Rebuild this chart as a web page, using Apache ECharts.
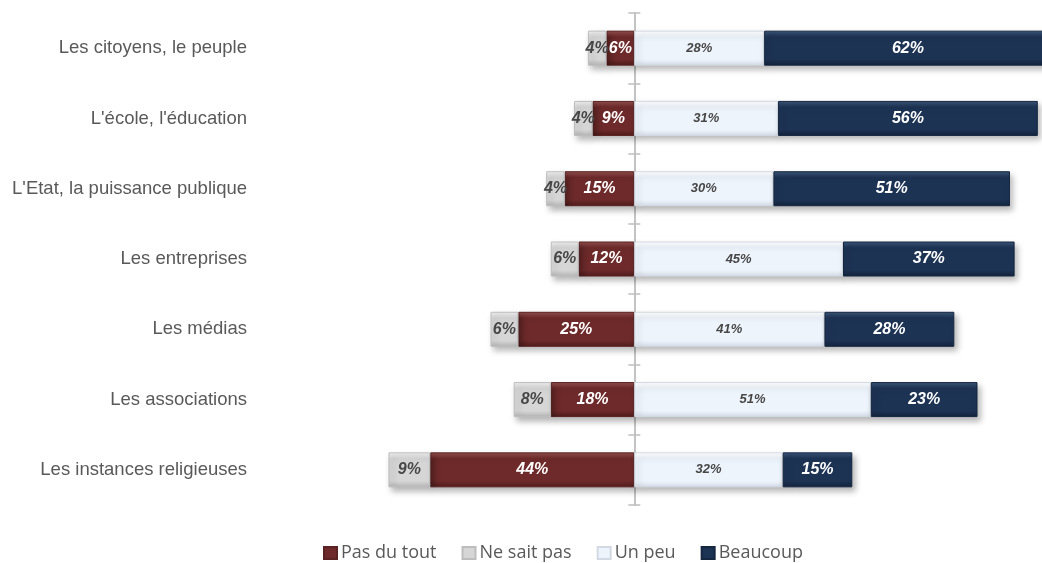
<!DOCTYPE html>
<html>
<head>
<meta charset="utf-8">
<script src="https://cdn.jsdelivr.net/npm/echarts@6/dist/echarts.min.js"></script>
<style>
  html, body { margin: 0; padding: 0; background: #ffffff; }
  #chart { width: 1042px; height: 563px; }
</style>
</head>
<body>
<div id="chart"></div>
<script>
// Survey items, top to bottom
const categories = [
  "Les citoyens, le peuple",
  "L'école, l'éducation",
  "L'Etat, la puissance publique",
  "Les entreprises",
  "Les médias",
  "Les associations",
  "Les instances religieuses"
];
// Answer shares in percent
const pasDuTout = [6, 9, 15, 12, 25, 18, 44];
const neSaitPas = [4, 4, 4, 6, 6, 8, 9];
const unPeu = [28, 31, 30, 45, 41, 51, 32];
const beaucoup = [62, 56, 51, 37, 28, 23, 15];

const chart = echarts.init(document.getElementById('chart'));

function bevel(top, mid, bottom) {
  return new echarts.graphic.LinearGradient(0, 0, 0, 1, [
    { offset: 0, color: top },
    { offset: 0.18, color: mid },
    { offset: 0.82, color: mid },
    { offset: 1, color: bottom }
  ]);
}

const shadow = {
  shadowBlur: 6,
  shadowOffsetX: 3,
  shadowOffsetY: 4,
  shadowColor: 'rgba(0,0,0,0.28)'
};

function labelCfg(color, size) {
  return {
    show: true,
    position: 'inside',
    color: color,
    fontFamily: 'Liberation Sans, Arial, sans-serif',
    fontStyle: 'italic',
    fontWeight: 'bold',
    fontSize: size,
    formatter: p => Math.abs(p.value) + '%'
  };
}

const series = [
  {
    name: 'Pas du tout',
    type: 'bar',
    stack: 'total',
    barWidth: 35,
    data: pasDuTout.map(v => -v),
    itemStyle: Object.assign({
      color: bevel('#93504f', '#6e2a2a', '#4f1c1c'),
      borderColor: '#5a2222', borderWidth: 1
    }, shadow),
    label: labelCfg('#ffffff', 16)
  },
  {
    name: 'Ne sait pas',
    type: 'bar',
    stack: 'total',
    data: neSaitPas.map(v => -v),
    itemStyle: Object.assign({
      color: bevel('#f0f0f0', '#d6d6d6', '#b5b5b5'),
      borderColor: '#bdbdbd', borderWidth: 1
    }, shadow),
    label: labelCfg('#474747', 16)
  },
  {
    name: 'Un peu',
    type: 'bar',
    stack: 'total',
    data: unPeu,
    itemStyle: Object.assign({
      color: bevel('#ffffff', '#eef4fc', '#d5dce6'),
      borderColor: '#d3d9e2', borderWidth: 1
    }, shadow),
    label: labelCfg('#474747', 13)
  },
  {
    name: 'Beaucoup',
    type: 'bar',
    stack: 'total',
    data: beaucoup,
    itemStyle: Object.assign({
      color: bevel('#3c5679', '#1d3354', '#13233b'),
      borderColor: '#152640', borderWidth: 1
    }, shadow),
    label: labelCfg('#ffffff', 16)
  }
];

const axisGrey = { color: '#bfbfbf', width: 1.5 };

chart.setOption({
  animation: false,
  backgroundColor: '#ffffff',
  grid: {
    left: 356, right: -19, top: 13, bottom: 58,
    containLabel: false,
    outerBoundsMode: 'none'
  },
  xAxis: [
    { type: 'value', min: -60, max: 92, show: false },
    // twin scale used only to anchor the right-hand tick marks at zero
    { type: 'value', min: -60, max: 92, show: false }
  ],
  yAxis: [
    {
      type: 'category',
      inverse: true,
      data: categories,
      axisLine: { show: true, onZero: true, onZeroAxisIndex: 0, lineStyle: axisGrey },
      axisTick: { show: true, length: 6, lineStyle: axisGrey },
      axisLabel: {
        margin: 109,
        color: '#595959',
        fontFamily: 'Liberation Sans, Arial, sans-serif',
        fontSize: 18.5
      },
      splitLine: { show: false }
    },
    {
      type: 'category',
      inverse: true,
      position: 'right',
      data: categories,
      axisLine: { show: true, onZero: true, onZeroAxisIndex: 1, lineStyle: axisGrey },
      axisTick: { show: true, length: 6, lineStyle: axisGrey },
      axisLabel: { show: false },
      splitLine: { show: false }
    }
  ],
  legend: {
    data: ['Pas du tout', 'Ne sait pas', 'Un peu', 'Beaucoup'],
    left: 318,
    top: 539,
    icon: 'rect',
    itemWidth: 13,
    itemHeight: 12,
    itemGap: 25,
    textStyle: {
      color: '#595959',
      fontFamily: 'Open Sans, sans-serif',
      fontSize: 18,
      padding: [0, 0, 0, -1]
    }
  },
  series: series
});
</script>
</body>
</html>
